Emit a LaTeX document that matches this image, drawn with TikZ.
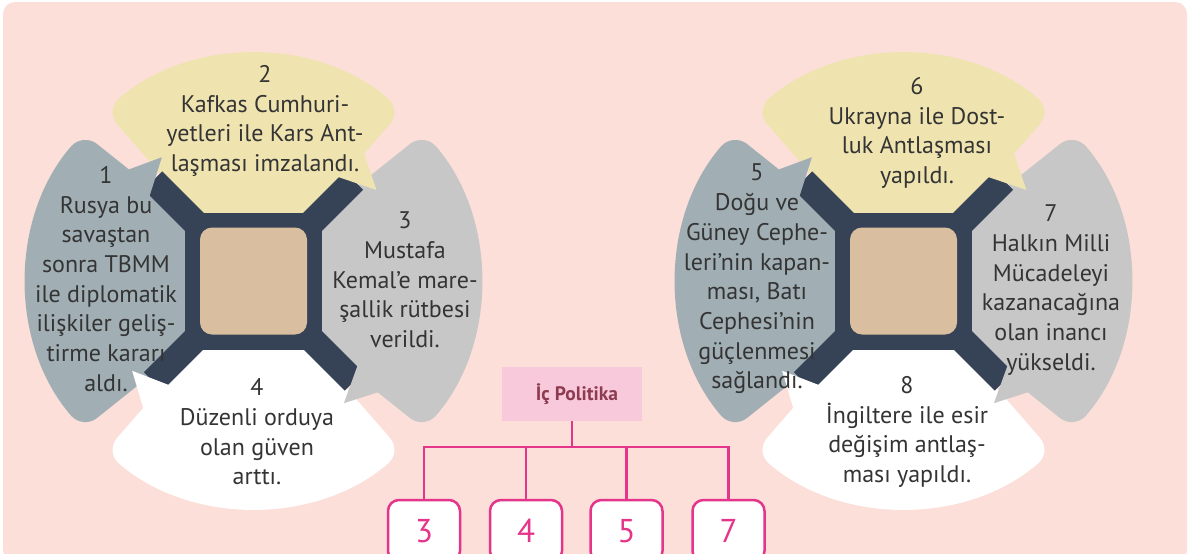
\documentclass[tikz,border=0pt]{standalone}
\usepackage{fontspec}
\setmainfont{PT Sans}
\definecolor{bgpink}{HTML}{FBDFD8}
\definecolor{cyellow}{HTML}{EFE4B0}
\definecolor{cblue}{HTML}{A1AFB5}
\definecolor{cgrey}{HTML}{C7C7C7}
\definecolor{cdark}{HTML}{364356}
\definecolor{cbeige}{HTML}{D9BE9F}
\definecolor{ctext}{HTML}{343434}
\definecolor{cmag}{HTML}{E4358B}
\definecolor{cpolfill}{HTML}{F8C9DB}
\definecolor{cpoltext}{HTML}{8E3A50}
\tikzset{
  petal/.style={rounded corners=18pt},
  ptext/.style={align=center, text=ctext, inner sep=0pt, font=\fontsize{24}{29.7}\selectfont},
  polbox/.style={fill=cpolfill, minimum width=140, minimum height=54, inner sep=0pt, text=cpoltext, font=\fontsize{19.5}{22}\selectfont\bfseries},
  numbox/.style={draw=cmag, fill=white, line width=2.5pt, rounded corners=11pt, minimum width=72, minimum height=62, inner sep=0pt, text=cmag, font=\fontsize{33}{36}\selectfont},
  conn/.style={draw=cmag, line width=2.5pt}
}
\newcommand\mywheel[1]{%
\begin{scope}[shift={#1}]
  \fill[cyellow, petal] (0,0) -- (-131:226) arc[start angle=-131, end angle=-49, radius=226] -- cycle;
  \fill[cgrey, petal] (-15,0) -- (-41:226) arc[start angle=-41, end angle=41, radius=226] -- cycle;
  \fill[white, petal] (0,0) -- (49:226) arc[start angle=49, end angle=131, radius=226] -- cycle;
  \fill[cblue, petal] (15,0) -- (139:226) arc[start angle=139, end angle=221, radius=226] -- cycle;
  \fill[cdark] (-68.5,-68.5) rectangle (68.5,68.5);
  \foreach \a in {-135,-45,45,135} \draw[cdark, line width=26pt] (0,0) -- (\a:142);
  \fill[cbeige, rounded corners=12pt] (-53.5,-53.5) rectangle (53.5,53.5);
  \fill[cblue] (219:134) -- (219:172) -- (233.5:154) -- cycle;
  \fill[cyellow] (-51:134) -- (-51:172) -- (-36.5:153) -- cycle;
  \fill[cgrey] (39:134) -- (39:172) -- (53.5:152) -- cycle;
  \fill[white] (129:134) -- (129:172) -- (143.5:151) -- cycle;
\end{scope}}
\begin{document}
\begin{tikzpicture}[x=1pt,y=-1pt]
\useasboundingbox (0,0) rectangle (1189,554);
\fill[white] (0,0) rectangle (1189,554);
\fill[bgpink, rounded corners=12pt] (3,2) rectangle (1187,562);
\mywheel{(253.5,281)}
\mywheel{(903.5,281)}
% left texts
\node[ptext] (t2) at (265,121) {2\\Kafkas Cumhuri-\\yetleri ile Kars Ant-\\laşması imzalandı.};
\node[ptext] (t1) at (106,279) {1\\Rusya bu\\savaştan\\sonra TBMM\\ile diplomatik\\ilişkiler geliş-\\tirme kararı\\aldı.};
\node[ptext] (t3) at (405,280) {3\\Mustafa\\Kemal’e mare-\\şallik rütbesi\\verildi.};
\node[ptext] (t4) at (257,432) {4\\Düzenli orduya\\olan güven\\arttı.};
% right texts
\node[ptext] (t6) at (917,133) {6\\Ukrayna ile Dost-\\luk Antlaşması\\yapıldı.};
\node[ptext] (t5) at (757,279) {5\\Doğu ve\\Güney Cephe-\\leri’nin kapan-\\ması, Batı\\Cephesi’nin\\güçlenmesi\\sağlandı.};
\node[ptext] (t7) at (1051,290) {7\\Halkın Milli\\Mücadeleyi\\kazanacağına\\olan inancı\\yükseldi.};
\node[ptext] (t8) at (907,432) {8\\İngiltere ile esir\\değişim antlaş-\\ması yapıldı.};
% tree
\node[polbox] (pol) at (572,394) {\hspace{10pt}İç Politika};
\node[numbox] (n3) at (424,531) {3};
\node[numbox] (n4) at (526,531) {4};
\node[numbox] (n5) at (626.5,531) {5};
\node[numbox] (n7) at (728.5,531) {7};
\draw[conn] (pol.south) -- ++(0,26) coordinate (bus);
\draw[conn] (n3.north) |- (n7.north |- bus) -- (n7.north);
\draw[conn] (n4.north) -- (n4.north |- bus);
\draw[conn] (n5.north) -- (n5.north |- bus);
\end{tikzpicture}
\end{document}
